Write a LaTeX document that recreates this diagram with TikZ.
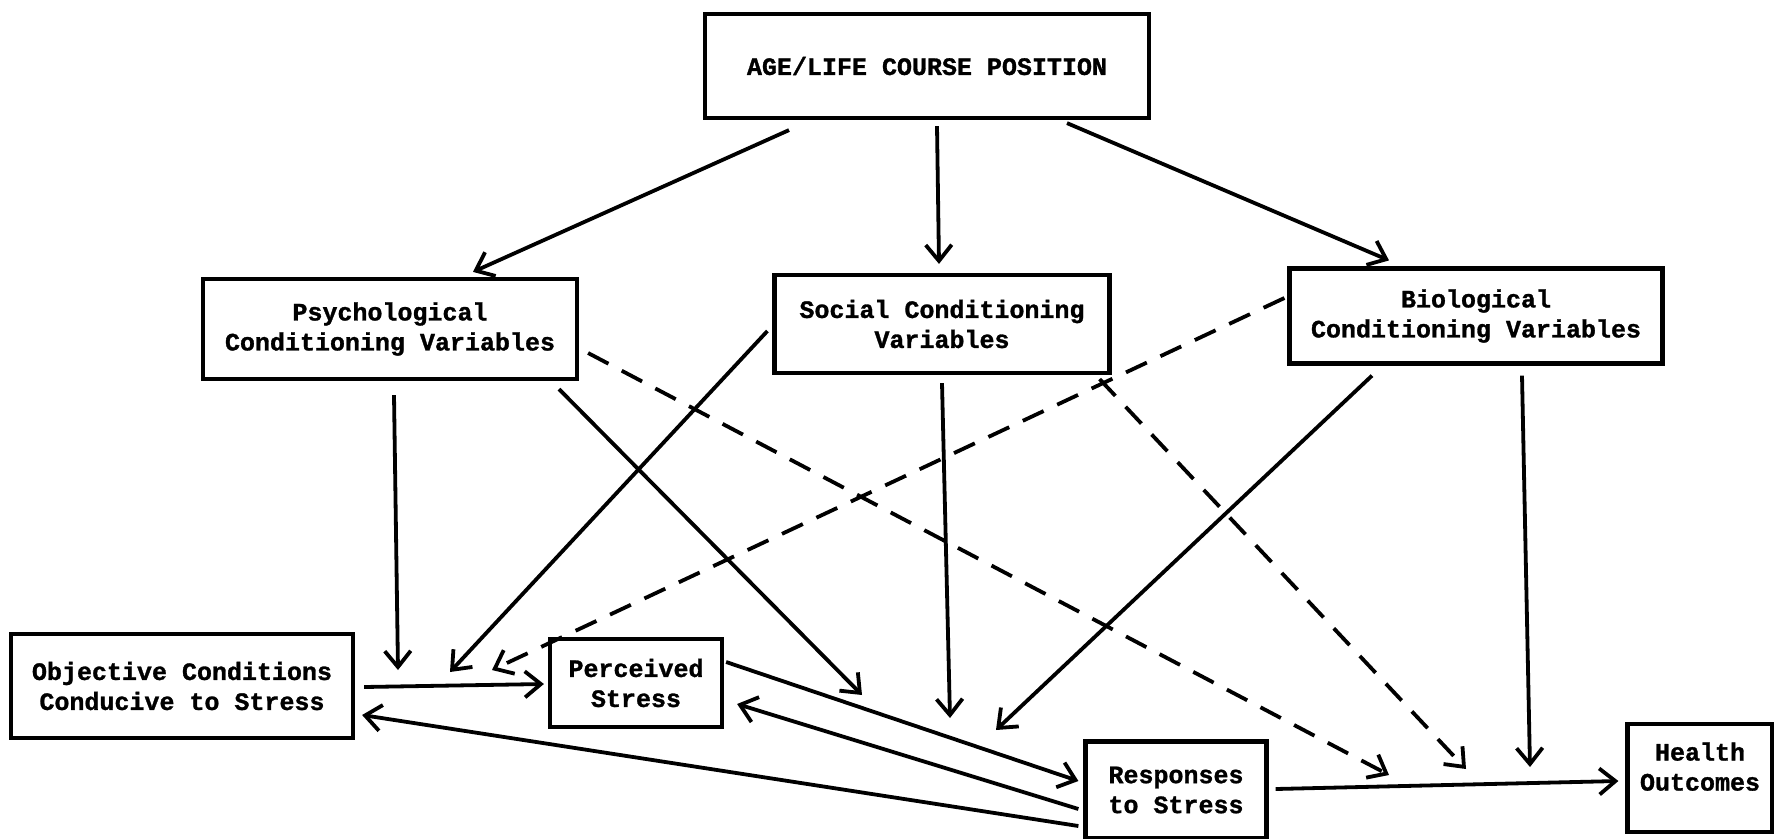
\documentclass[tikz,border=0pt]{standalone}
\usepackage{fontspec}
\newfontfamily\tw{Liberation Mono}[BoldFeatures={FakeBold=1.2}]
\usetikzlibrary{arrows.meta,calc}
\tikzset{
  box/.style={draw, line width=4.2pt, align=center, inner sep=0pt,
    font=\tw\bfseries\fontsize{25}{30}\selectfont},
  arr/.style={line width=3.8pt, -{Straight Barb[length=16pt,width=26pt,line width=3.8pt]}},
  darr/.style={arr, dash pattern=on 23pt off 15pt},
}
\begin{document}
\begin{tikzpicture}[x=1pt,y=-1pt]
\useasboundingbox (0,0) rectangle (1774,838);
\fill[white] (0,0) rectangle (1774,838);
% boxes
\node[box, minimum width=444pt, minimum height=104pt] (age) at (927,66) {AGE/LIFE COURSE POSITION};
\node[box, minimum width=374pt, minimum height=100pt] (psy) at (390,329) {Psychological\\Conditioning Variables};
\node[box, minimum width=335pt, minimum height=98pt] (soc) at (942,324) {Social Conditioning\\Variables};
\node[box, minimum width=373pt, minimum height=95pt] (bio) at (1476,316) {Biological\\Conditioning Variables};
\node[box, minimum width=342pt, minimum height=104pt] (obj) at (182,686) {Objective Conditions\\Conducive to Stress};
\node[box, minimum width=172pt, minimum height=88pt] (per) at (636,683) {Perceived\\Stress};
\node[box, minimum width=181pt, minimum height=97pt] (res) at (1176,790) {Responses\\to Stress};
\node[box, minimum width=145pt, minimum height=108pt] (hea) at (1700,778) {Health\\Outcomes\\[-7pt]};
% free ends
\coordinate (c1) at (398,670);
\coordinate (c2) at (862,695);
\coordinate (c3) at (1389,775);
\coordinate (c4) at (450,672);
\coordinate (c5) at (950,718);
\coordinate (c6) at (1466,769);
\coordinate (c7) at (492,670);
\coordinate (c8) at (996,730);
\coordinate (c9) at (1530,767);
% from age
\draw[arr] ($(age.south)+(-138,10)$) -- ($(psy.north)+(83,-5)$);
\draw[arr] ($(age.south)+(10,6)$) -- ($(soc.north)+(-3,-9)$);
\draw[arr] ($(age.south)+(140,3)$) -- ($(bio.north)+(-87,-6)$);
% from psychological
\draw[arr] ($(psy.south)+(4,14)$) -- (c1);
\draw[arr] ($(psy.south)+(169,8)$) -- (c2);
\draw[darr] ($(psy.east)+(9,24)$) -- (c3);
% from social
\draw[arr] ($(soc.west)+(-5,7)$) -- (c4);
\draw[arr] ($(soc.south)+(0,8)$) -- (c5);
\draw[darr] ($(soc.south east)+(-12,4)$) -- (c6);
% from biological
\draw[darr] ($(bio.west)+(-3,-18)$) -- (c7);
\draw[arr] ($(bio.south)+(-104,10)$) -- (c8);
\draw[arr] ($(bio.south)+(46,10)$) -- (c9);
% bottom row
\draw[arr] ($(obj.east)+(9,1)$) -- ($(per.west)+(-4,1)$);
\draw[arr] ($(per.east)+(2,-21)$) -- ($(res.west)+(-5,-9)$);
\draw[arr] ($(res.west)+(-5,19)$) -- ($(per.east)+(13,21)$);
\draw[arr] ($(res.west)+(-5,36)$) -- ($(obj.east)+(7,29)$);
\draw[arr] ($(res.east)+(7,-1)$) -- ($(hea.west)+(-7,3)$);
\end{tikzpicture}
\end{document}
